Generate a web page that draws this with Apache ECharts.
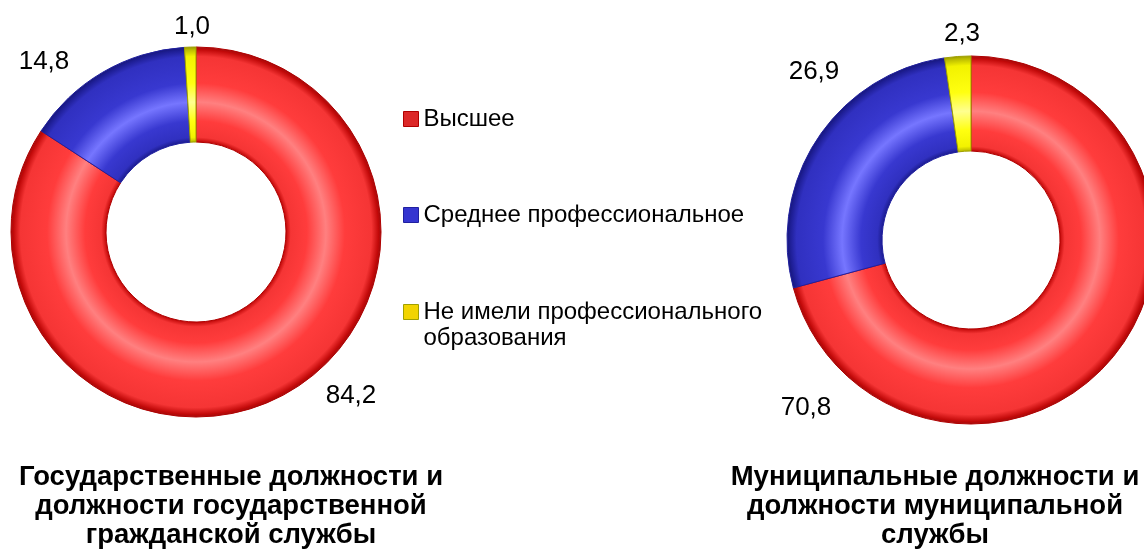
<!DOCTYPE html>
<html>
<head>
<meta charset="utf-8">
<script src="https://cdn.jsdelivr.net/npm/echarts@6/dist/echarts.min.js"></script>
<style>
html,body{margin:0;padding:0;background:#fff;}
#chart{width:1144px;height:553px;}
</style>
</head>
<body>
<div id="chart"></div>
<script>
// ---- data ----
const categories = ['Высшее', 'Среднее профессиональное', 'Не имели профессионального образования'];
const legendLabels = ['Высшее', 'Среднее профессиональное', ' \nНе имели профессионального\nобразования'];
const stateValues = [84.2, 14.8, 1.0];
const municipalValues = [70.8, 26.9, 2.3];
const chartTitles = [
  'Государственные должности и\nдолжности государственной\nгражданской службы',
  'Муниципальные должности и\nдолжности муниципальной\nслужбы'
];

// ---- layout / style ----
const FONT = '"Liberation Sans", Arial, Helvetica, sans-serif';
const pies = [
  { center: [196, 232], inner: 90, outer: 185, titleX: 231 },
  { center: [971, 240], inner: 89, outer: 184, titleX: 935 }
];
const labelAnchors = [
  [[351, 396], [44, 62], [192, 27]],
  [[806, 408], [814, 72], [962, 34]]
];
const legendTops = [106, 202, 273];
const palettes = [
  { base: '#FF3C3C', light: '#FF8080', mid: '#F53535', dark: '#C00808', edge: '#A01010', border: '#B00000' },
  { base: '#3838D0', light: '#7676FF', mid: '#3030C0', dark: '#1C1C90', edge: '#181878', border: '#2020A0' },
  { base: '#FFFF10', light: '#FFFF90', mid: '#F2F200', dark: '#B8B800', edge: '#9A9A00', border: '#A0A000' }
];
const legendColors = ['#DC2828', '#3535D0', '#F2D400'];

function ringGradient(p, pal) {
  const f = p.inner / p.outer;
  const w = 1 - f;
  return {
    type: 'radial', x: p.center[0], y: p.center[1], r: p.outer, global: true,
    colorStops: [
      { offset: f, color: pal.dark },
      { offset: f + w * 0.05, color: pal.mid },
      { offset: f + w * 0.22, color: pal.base },
      { offset: f + w * 0.42, color: pal.light },
      { offset: f + w * 0.62, color: pal.base },
      { offset: f + w * 0.90, color: pal.mid },
      { offset: f + w * 0.975, color: pal.dark },
      { offset: 1, color: pal.edge }
    ]
  };
}

function fmt(v) { return v.toFixed(1).replace('.', ','); }

function buildSeries(idx, values) {
  const p = pies[idx];
  return {
    type: 'pie',
    name: chartTitles[idx],
    center: p.center,
    radius: [p.inner, p.outer],
    startAngle: 90,
    clockwise: true,
    avoidLabelOverlap: false,
    silent: true,
    animation: false,
    label: {
      show: true,
      position: 'outside',
      formatter: (d) => fmt(d.value),
      fontSize: 26,
      fontFamily: FONT,
      color: '#000'
    },
    labelLine: { show: false },
    labelLayout: (params) => {
      const a = labelAnchors[idx][params.dataIndex];
      return { x: a[0], y: a[1], align: 'center', verticalAlign: 'middle' };
    },
    data: categories.map((c, i) => ({
      name: c,
      value: values[i],
      itemStyle: {
        color: ringGradient(p, palettes[i]),
        borderColor: palettes[i].border,
        borderWidth: 1
      }
    }))
  };
}

const chart = echarts.init(document.getElementById('chart'), null, { renderer: 'canvas' });
chart.setOption({
  backgroundColor: '#fff',
  animation: false,
  title: chartTitles.map((t, i) => ({
    text: t,
    left: pies[i].titleX,
    top: 463,
    textAlign: 'center',
    padding: 0,
    textStyle: { fontSize: 27.5, fontWeight: 'bold', lineHeight: 29, fontFamily: FONT, color: '#000' }
  })),
  legend: categories.map((c, i) => ({
    orient: 'vertical',
    left: 403,
    top: legendTops[i],
    padding: 0,
    itemWidth: 15,
    itemHeight: 15,
    itemGap: 0,
    icon: 'rect',
    selectedMode: false,
    textStyle: { fontSize: 24, fontFamily: FONT, color: '#000', lineHeight: 26 },
    formatter: (name) => legendLabels[categories.indexOf(name)],
    data: [{ name: c, itemStyle: { color: legendColors[i], borderColor: palettes[i].border, borderWidth: 1 } }]
  })),
  series: [buildSeries(0, stateValues), buildSeries(1, municipalValues)]
});
</script>
</body>
</html>
